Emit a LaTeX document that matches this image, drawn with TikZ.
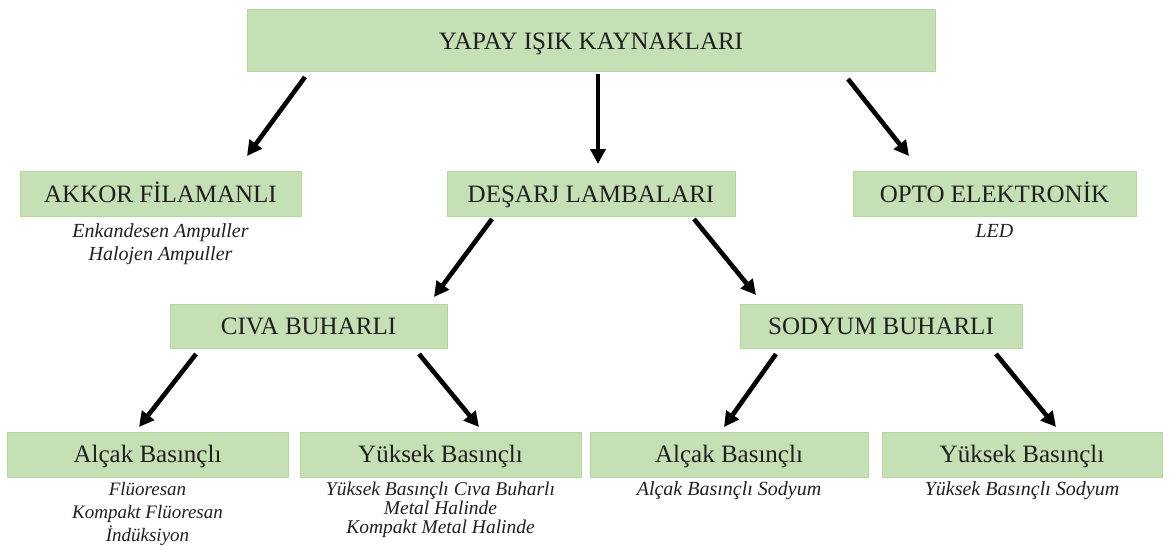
\documentclass[tikz,border=0pt]{standalone}
\usepackage{fontspec}
\setmainfont{Liberation Serif}
\usetikzlibrary{arrows.meta}
\definecolor{boxfill}{HTML}{C5E0B4}
\definecolor{boxedge}{HTML}{B5D69F}
\tikzset{
  box/.style={draw=boxedge, line width=1pt, fill=boxfill, inner sep=0pt, font=\fontsize{25}{28}\selectfont, text=black!88, text height=21.5pt, text depth=5pt},
  sub/.style={font=\fontsize{20}{24}\selectfont\itshape, inner sep=0pt, anchor=base, text=black!88},
  subs/.style={sub, font=\fontsize{19.5}{24}\selectfont\itshape},
  subl/.style={sub, font=\fontsize{19}{24}\selectfont\itshape},
  arr/.style={line width=4.6pt, -{Triangle[length=15pt,width=15pt]}}
}
\begin{document}
\begin{tikzpicture}[x=1pt,y=-1pt]
\useasboundingbox (0,0) rectangle (1170,551);
% boxes
\node[box, minimum width=688pt, minimum height=62pt] (top) at (591,41) {YAPAY IŞIK KAYNAKLARI};
\node[box, minimum width=281pt, minimum height=45pt] (akkor) at (160.5,194) {AKKOR FİLAMANLI};
\node[box, minimum width=288pt, minimum height=45pt] (desarj) at (591,194) {DEŞARJ LAMBALARI};
\node[box, minimum width=283pt, minimum height=45pt] (opto) at (994.5,194) {OPTO ELEKTRONİK};
\node[box, minimum width=277pt, minimum height=44pt] (civa) at (308.5,326.5) {CIVA BUHARLI};
\node[box, minimum width=282pt, minimum height=44pt] (sodyum) at (881,326.5) {SODYUM BUHARLI};
\node[box, minimum width=281pt, minimum height=45pt] (b1) at (147.5,454.5) {Alçak Basınçlı};
\node[box, minimum width=281pt, minimum height=45pt] (b2) at (440.5,454.5) {Yüksek Basınçlı};
\node[box, minimum width=278pt, minimum height=45pt] (b3) at (729,454.5) {Alçak Basınçlı};
\node[box, minimum width=280pt, minimum height=45pt] (b4) at (1022,454.5) {Yüksek Basınçlı};
% sub texts
\node[sub] (akkor1) at (160.5,237) {Enkandesen Ampuller};
\node[sub] (akkor2) at (160.5,260) {Halojen Ampuller};
\node[sub] (opto1) at (994.5,237) {LED};
\node[subl] (b1a) at (147.5,495) {Flüoresan};
\node[subl] (b1b) at (147.5,518) {Kompakt Flüoresan};
\node[subl] (b1c) at (147.5,541) {İndüksiyon};
\node[subs] (b2a) at (440.5,495) {Yüksek Basınçlı Cıva Buharlı};
\node[subs] (b2b) at (440.5,514) {Metal Halinde};
\node[subs] (b2c) at (440.5,533) {Kompakt Metal Halinde};
\node[sub] (b3a) at (729,495) {Alçak Basınçlı Sodyum};
\node[sub] (b4a) at (1022,495) {Yüksek Basınçlı Sodyum};
% arrow end points
\coordinate (t1s) at (305,77);  \coordinate (t1e) at (247,156);
\coordinate (t2s) at (598,74);  \coordinate (t2e) at (598,164);
\coordinate (t3s) at (848,79);  \coordinate (t3e) at (909,156);
\coordinate (d1s) at (492,219); \coordinate (d1e) at (434,297);
\coordinate (d2s) at (694,219); \coordinate (d2e) at (756,295);
\coordinate (c1s) at (196,354); \coordinate (c1e) at (139,427);
\coordinate (c2s) at (419,354); \coordinate (c2e) at (479,427);
\coordinate (s1s) at (776,354); \coordinate (s1e) at (724,427);
\coordinate (s2s) at (996,354); \coordinate (s2e) at (1056,427);
\draw[arr] (t1s) -- (t1e);
\draw[arr] (t2s) -- (t2e);
\draw[arr] (t3s) -- (t3e);
\draw[arr] (d1s) -- (d1e);
\draw[arr] (d2s) -- (d2e);
\draw[arr] (c1s) -- (c1e);
\draw[arr] (c2s) -- (c2e);
\draw[arr] (s1s) -- (s1e);
\draw[arr] (s2s) -- (s2e);
\end{tikzpicture}
\end{document}
